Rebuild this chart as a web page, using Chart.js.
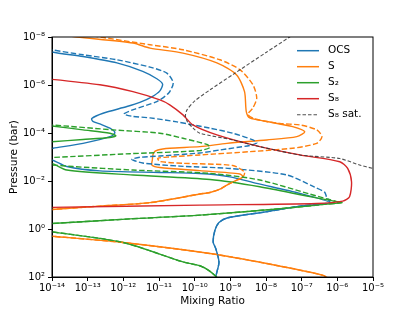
<!DOCTYPE html>
<html>
<head>
<meta charset="utf-8">
<script src="https://cdn.jsdelivr.net/npm/chart.js@4"></script>
<style>
  html, body { margin: 0; padding: 0; background: #fff; }
</style>
</head>
<body>
<canvas id="myChart" width="415" height="311"></canvas>
<script>
// mixing ratio profiles (x = mixing ratio, p = pressure in bar)
const ocsX = [4.6e-15, 1.0e-14, 7.4e-14, 6.6e-13, 3.5e-12, 8.7e-12, 1.26e-11, 1.06e-11, 6.3e-12, 2.9e-12, 1.26e-12, 2.7e-13, 1.3e-13, 1.4e-13, 2.2e-13, 4.2e-13, 5.8e-13, 4.5e-13, 7.4e-14, 1.07e-14, 4.6e-15, 4.6e-15, 1.0e-14, 2.6e-14, 2.2e-13, 1.06e-11, 1.4e-10, 9.7e-10, 5.5e-9, 8.9e-8, 6.1e-7, 8.9e-8, 1.05e-8, 8.5e-10, 4.8e-10, 3.7e-10, 3.3e-10, 3.9e-10, 4.8e-10, 3.9e-10, 3.9e-10];
const ocsP = [2.8e-8, 4.2e-8, 6.5e-8, 1.2e-7, 2.7e-7, 5.5e-7, 9.2e-7, 1.75e-6, 3.1e-6, 5.3e-6, 7.9e-6, 1.5e-5, 2.5e-5, 3.3e-5, 4.2e-5, 6.3e-5, 9.5e-5, 1.39e-4, 2.7e-4, 4.3e-4, 5.4e-4, 1.1e-3, 1.33e-3, 2.5e-3, 3.8e-3, 4.4e-3, 4.9e-3, 6.7e-3, 1.26e-2, 3.3e-2, 8.0e-2, 0.111, 0.19, 0.34, 0.54, 1.12, 3.45, 6.5, 24, 100, 222];

const ocsDashX = [4.6e-15, 1.0e-14, 7.4e-14, 6.6e-13, 5.6e-12, 1.66e-11, 2.5e-11, 1.9e-11, 8.7e-12, 2.0e-12, 1.04e-12, 1.74e-12, 5.6e-12, 3.2e-11, 2.7e-10, 1.17e-9, 4.3e-9, 5.5e-9, 3.5e-9, 5.1e-10, 1.4e-10, 1.06e-11, 2.9e-12, 1.74e-12, 3.5e-12, 3.8e-11, 9.7e-10, 3.8e-8, 2.3e-7, 4.4e-7, 5.0e-7, 6.1e-7, 8.9e-8, 1.05e-8, 8.5e-10, 4.8e-10, 3.7e-10, 3.3e-10, 3.9e-10, 4.8e-10, 3.9e-10, 3.9e-10];
const ocsDashP = [2.3e-8, 3.4e-8, 5.5e-8, 8.9e-8, 1.8e-7, 3.2e-7, 8.1e-7, 2.1e-6, 4.9e-6, 1.04e-5, 1.6e-5, 2.0e-5, 2.35e-5, 3.45e-5, 6.3e-5, 1.02e-4, 1.95e-4, 2.6e-4, 3.3e-4, 5.1e-4, 6.8e-4, 9.1e-4, 1.03e-3, 1.25e-3, 1.78e-3, 2.4e-3, 3.0e-3, 5.6e-3, 1.8e-2, 2.9e-2, 4.7e-2, 8.0e-2, 0.111, 0.19, 0.34, 0.54, 1.12, 3.45, 6.5, 24, 100, 222];

const sX = [1.7e-14, 5.0e-14, 1.86e-12, 5.6e-12, 4.7e-11, 4.2e-10, 1.5e-9, 2.5e-9, 2.8e-9, 3.5e-9, 1.05e-8, 5.6e-8, 1.22e-7, 7.3e-8, 1.05e-8, 8.0e-10, 1.4e-10, 2.0e-11, 9.3e-12, 7.0e-12, 6.5e-12, 6.3e-12, 1.06e-11, 1.4e-10, 1.85e-9, 2.24e-9, 1.34e-9, 8.0e-10, 5.1e-10, 2.7e-10, 1.4e-10, 5.6e-12, 2.2e-13, 1.0e-14, 4.6e-15, 4.6e-15, 1.0e-14, 9.9e-13, 2.7e-10, 1.05e-8, 4.0e-7, 6.1e-7];
const sP = [8.0e-9, 1.0e-8, 1.78e-8, 2.9e-8, 4.7e-8, 1.2e-7, 3.8e-7, 1.9e-6, 1.28e-5, 2.35e-5, 3.3e-5, 5.4e-5, 8.8e-5, 1.42e-4, 1.95e-4, 2.7e-4, 3.7e-4, 4.3e-4, 5.1e-4, 6.8e-4, 1.33e-3, 2.15e-3, 2.75e-3, 3.7e-3, 5.1e-3, 6.8e-3, 1.0e-2, 1.48e-2, 2.2e-2, 3.0e-2, 3.5e-2, 8.0e-2, 0.111, 0.153, 0.164, 1.81, 2.0, 3.66, 10.5, 27.5, 85, 125];

const sDashX = [8.4e-14, 2.2e-13, 5.6e-12, 4.7e-11, 5.1e-10, 1.85e-9, 4.3e-9, 5.5e-9, 4.3e-9, 3.1e-9, 4.9e-9, 2.4e-8, 8.9e-8, 2.65e-7, 3.7e-7, 2.65e-7, 5.6e-8, 3.5e-9, 1.4e-10, 2.0e-11, 9.3e-12, 1.06e-11, 4.7e-11, 1.17e-9, 2.5e-9, 2.24e-9, 1.34e-9, 8.0e-10, 5.1e-10, 2.7e-10, 1.4e-10, 5.6e-12, 2.2e-13, 1.0e-14, 4.6e-15, 4.6e-15, 1.0e-14, 9.9e-13, 2.7e-10, 1.05e-8, 4.0e-7, 6.1e-7];
const sDashP = [8.0e-9, 1.0e-8, 2.1e-8, 3.4e-8, 8.9e-8, 2.3e-7, 9.8e-7, 3.5e-6, 9.0e-6, 1.68e-5, 2.6e-5, 4.0e-5, 4.6e-5, 7.4e-5, 1.42e-4, 2.7e-4, 4.3e-4, 6.0e-4, 8.2e-4, 1.0e-3, 1.13e-3, 1.54e-3, 1.83e-3, 2.26e-3, 4.2e-3, 6.8e-3, 1.0e-2, 1.48e-2, 2.2e-2, 3.0e-2, 3.5e-2, 8.0e-2, 0.111, 0.153, 0.164, 1.81, 2.0, 3.66, 10.5, 27.5, 85, 125];

const s2X = [4.6e-15, 1.0e-14, 7.4e-14, 4.2e-13, 6.2e-13, 4.2e-13, 7.4e-14, 1.0e-14, 4.6e-15, 4.6e-15, 1.0e-14, 2.6e-14, 1.86e-12, 2.7e-10, 6.7e-9, 1.69e-7, 9.6e-7, 1.33e-6, 5.0e-7, 3.0e-8, 1.4e-10, 1.53e-12, 1.0e-14, 4.6e-15, 4.6e-15, 1.0e-14, 9.9e-13, 4.7e-11, 1.4e-10, 2.7e-10, 4.2e-10];
const s2P = [4.6e-5, 5.1e-5, 7.4e-5, 1.02e-4, 1.29e-4, 1.53e-4, 1.86e-4, 2.3e-4, 2.5e-4, 1.62e-3, 1.83e-3, 3.5e-3, 5.6e-3, 8.7e-3, 1.74e-2, 4.5e-2, 7.2e-2, 8.0e-2, 9.2e-2, 0.139, 0.265, 0.38, 0.59, 0.63, 1.23, 1.32, 3.66, 23.6, 34, 58, 103];

const s2DashX = [4.6e-15, 1.0e-14, 5.1e-13, 1.06e-11, 4.7e-11, 2.2e-10, 2.7e-10, 1.4e-10, 1.53e-12, 1.0e-14, 4.6e-15, 4.6e-15, 1.0e-14, 3.9e-14, 1.86e-12, 2.7e-10, 6.7e-9, 1.69e-7, 9.6e-7, 1.33e-6, 5.0e-7, 3.0e-8, 1.4e-10, 1.53e-12, 1.0e-14, 4.6e-15, 4.6e-15, 1.0e-14, 9.9e-13, 4.7e-11, 1.4e-10, 2.7e-10, 4.2e-10];
const s2DashP = [4.2e-5, 4.6e-5, 7.4e-5, 1.02e-4, 1.66e-4, 3.0e-4, 4.0e-4, 5.4e-4, 7.3e-4, 1.05e-3, 1.1e-3, 2.06e-3, 2.15e-3, 2.5e-3, 3.5e-3, 4.8e-3, 9.1e-3, 3.5e-2, 7.2e-2, 8.0e-2, 9.2e-2, 0.139, 0.265, 0.38, 0.59, 0.63, 1.23, 1.32, 3.66, 23.6, 34, 58, 103];

const s8X = [4.6e-15, 1.0e-14, 2.2e-13, 1.86e-12, 1.06e-11, 2.0e-11, 4.7e-11, 8.9e-11, 4.2e-10, 6.7e-9, 8.9e-8, 1.17e-6, 1.95e-6, 2.5e-6, 2.2e-6, 1.42e-6, 2.65e-7, 1.4e-10, 1.0e-14, 4.6e-15];
const s8P = [5.5e-7, 5.8e-7, 9.8e-7, 1.9e-6, 4.2e-6, 6.7e-6, 1.76e-5, 4.6e-5, 1.2e-4, 3.7e-4, 8.2e-4, 1.57e-3, 3.0e-3, 1.08e-2, 4.5e-2, 6.9e-2, 8.6e-2, 0.101, 0.126, 0.129];

const satX = [8.9e-8, 4.6e-8, 1.03e-8, 1.2e-9, 2.7e-10, 1.01e-10, 6.1e-11, 5.5e-11, 6.3e-11, 9.1e-11, 1.4e-10, 1.17e-9, 6.7e-9, 8.9e-8, 1.17e-6, 4.2e-6, 1.0e-5, 2.1e-5];
const satP = [5.0e-9, 1.0e-8, 4.3e-8, 3.6e-7, 1.59e-6, 4.6e-6, 1.09e-5, 1.94e-5, 3.45e-5, 6.3e-5, 1.02e-4, 1.95e-4, 3.7e-4, 8.2e-4, 1.16e-3, 2.15e-3, 3.0e-3, 3.8e-3];

const xTickValues = [1e-14, 1e-13, 1e-12, 1e-11, 1e-10, 1e-9, 1e-8, 1e-7, 1e-6, 1e-5];
const xTickLabels = ['10⁻¹⁴', '10⁻¹³', '10⁻¹²', '10⁻¹¹', '10⁻¹⁰', '10⁻⁹', '10⁻⁸', '10⁻⁷', '10⁻⁶', '10⁻⁵'];
const yTickValues = [1e-8, 1e-6, 1e-4, 1e-2, 1e0, 1e2];
const yTickLabels = ['10⁻⁸', '10⁻⁶', '10⁻⁴', '10⁻²', '10⁰', '10²'];
const legendLabels = ['OCS', 'S', 'S₂', 'S₈', 'S₈ sat.'];

const blue = '#1f77b4', orange = '#ff7f0e', green = '#2ca02c', red = '#d62728', sat = 'rgba(50,50,50,0.85)';
const dash = [5.5, 2.4];
const satDash = [3.5, 2];

function pts(xs, ps) {
  return xs.map((x, i) => ({ x: x, y: ps[i] }));
}

function series(label, xs, ps, color, lineDash, width, order) {
  return {
    label: label,
    data: pts(xs, ps),
    showLine: true,
    borderColor: color,
    backgroundColor: color,
    borderWidth: width,
    borderDash: lineDash,
    pointRadius: 0,
    tension: 0.25,
    fill: false,
    clip: 0,
    order: order
  };
}

// frame on all four sides + legend inside the axes, top right
const extras = {
  id: 'extras',
  afterDraw(chart) {
    const ctx = chart.ctx;
    const a = chart.chartArea;
    ctx.save();
    ctx.strokeStyle = '#000';
    ctx.lineWidth = 1;
    ctx.setLineDash([]);
    ctx.strokeRect(a.left, a.top, a.right - a.left, a.bottom - a.top);

    const colors = [blue, orange, green, red, sat];
    ctx.font = "10.5px 'DejaVu Sans'";
    ctx.textBaseline = 'middle';
    ctx.fillStyle = '#000';
    legendLabels.forEach((txt, i) => {
      const y = 50.7 + i * 16;
      ctx.beginPath();
      ctx.strokeStyle = colors[i];
      ctx.lineWidth = i === 4 ? 1.1 : 1.5;
      ctx.setLineDash(i === 4 ? satDash : []);
      ctx.moveTo(297, y);
      ctx.lineTo(319, y);
      ctx.stroke();
      ctx.fillText(txt, 328, y);
    });
    ctx.restore();
  }
};

Chart.defaults.font.family = "'DejaVu Sans'";
Chart.defaults.color = '#000';

let myChart = document.getElementById('myChart').getContext('2d');

let profileChart = new Chart(myChart, {
  type: 'scatter',
  data: {
    datasets: [
      series('S8 sat.', satX, satP, sat, satDash, 1.1, 0),
      series('S8', s8X, s8P, red, [], 1.4, 1),
      series('S2 dashed', s2DashX, s2DashP, green, dash, 1.4, 2),
      series('S dashed', sDashX, sDashP, orange, dash, 1.4, 3),
      series('OCS dashed', ocsDashX, ocsDashP, blue, dash, 1.4, 4),
      series('S2', s2X, s2P, green, [], 1.4, 5),
      series('S', sX, sP, orange, [], 1.4, 6),
      series('OCS', ocsX, ocsP, blue, [], 1.4, 7)
    ]
  },
  options: {
    responsive: false,
    animation: false,
    devicePixelRatio: 1,
    layout: { padding: { top: 37, right: 42, left: 0, bottom: 0 } },
    plugins: {
      legend: { display: false },
      tooltip: { enabled: false }
    },
    scales: {
      x: {
        type: 'logarithmic',
        min: 1e-14,
        max: 1e-5,
        afterBuildTicks: s => { s.ticks = xTickValues.map(v => ({ value: v })); },
        afterFit: s => { s.height = 34; },
        ticks: {
          callback: (v, i) => xTickLabels[i],
          autoSkip: false,
          maxRotation: 0,
          padding: 1,
          font: { size: 10 }
        },
        grid: { drawOnChartArea: false, color: '#000', tickLength: 4 },
        border: { color: '#000', width: 1 },
        title: { display: true, text: 'Mixing Ratio', font: { size: 10.5 }, padding: { top: 0, bottom: 3.7 } }
      },
      y: {
        type: 'logarithmic',
        reverse: true,
        min: 1e-8,
        max: 1e2,
        afterBuildTicks: s => { s.ticks = yTickValues.map(v => ({ value: v })); },
        afterFit: s => { s.width = 52; },
        ticks: {
          callback: (v, i) => yTickLabels[i],
          autoSkip: false,
          padding: 3,
          font: { size: 10 }
        },
        grid: { drawOnChartArea: false, color: '#000', tickLength: 4 },
        border: { color: '#000', width: 1 },
        title: { display: true, text: 'Pressure (bar)', font: { size: 10.5 }, padding: { top: 8, bottom: 4 } }
      }
    }
  },
  plugins: [extras]
});
</script>
</body>
</html>
